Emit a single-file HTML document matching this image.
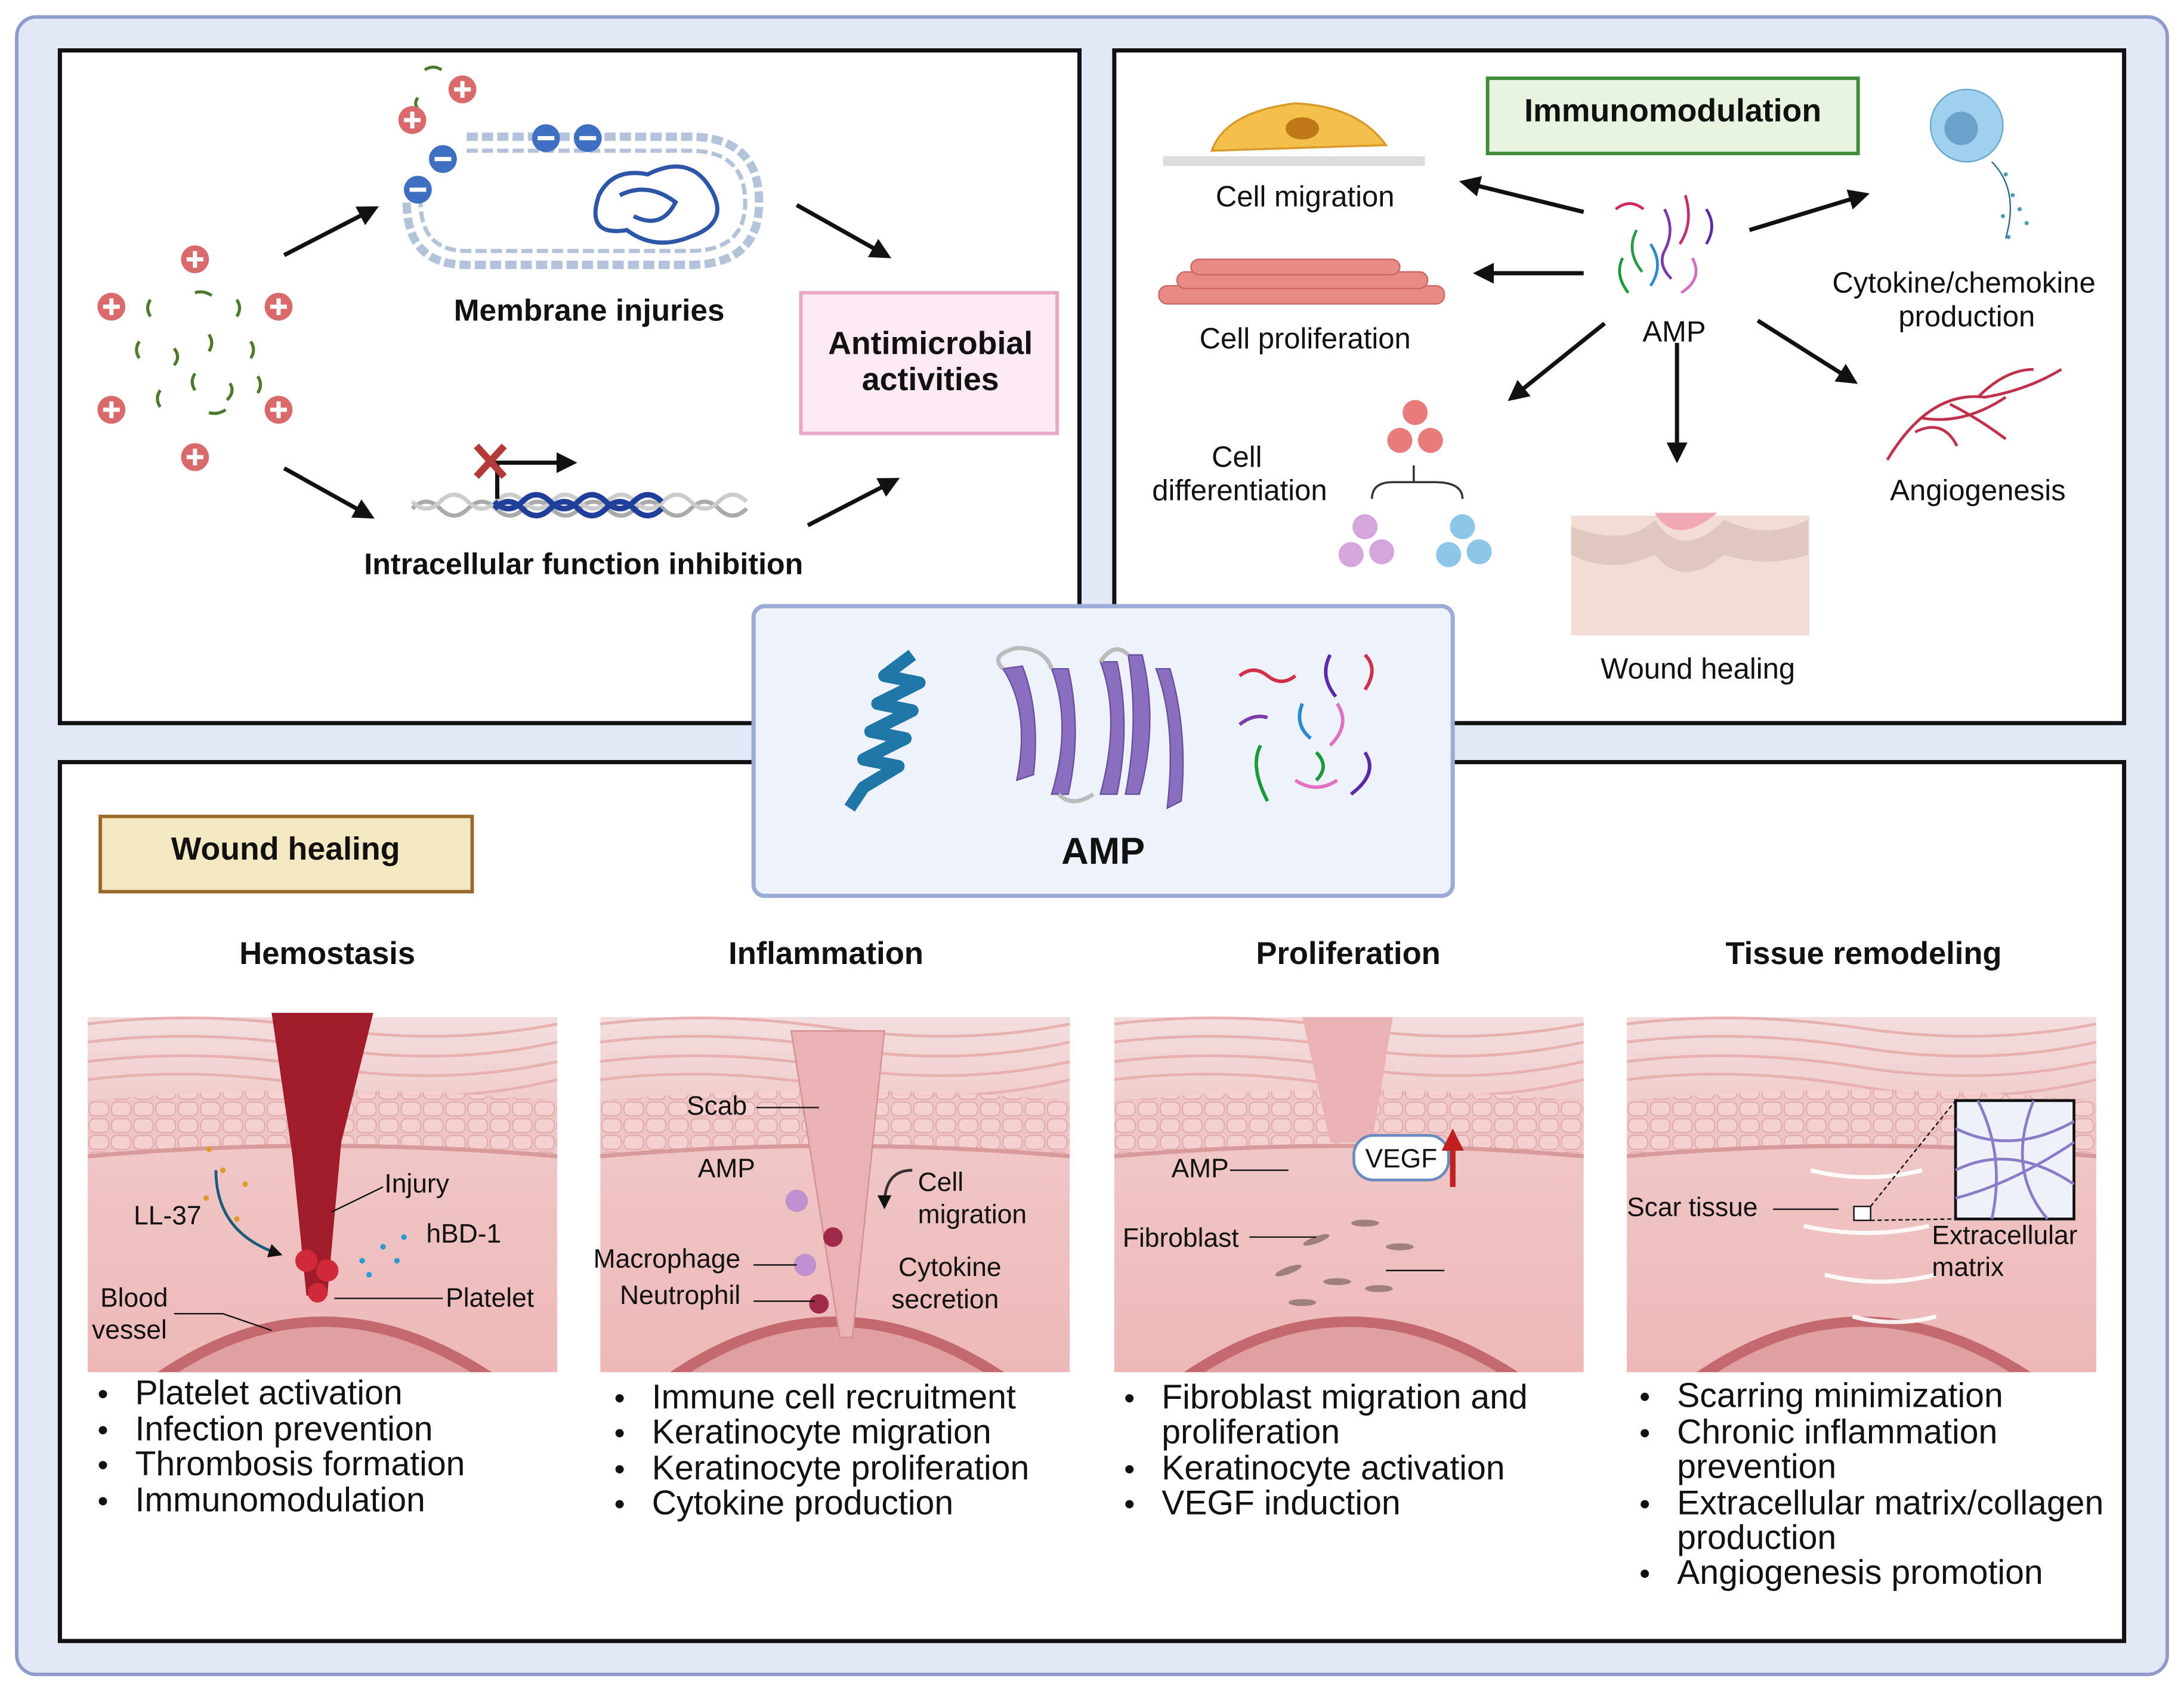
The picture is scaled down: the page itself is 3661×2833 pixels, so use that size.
<!DOCTYPE html>
<html><head><meta charset="utf-8"><style>
html,body{margin:0;padding:0;background:#fff}
svg{display:block}
text{font-family:"Liberation Sans",Arial,sans-serif;fill:#111}
.b{font-weight:bold}
</style></head><body>
<svg width="3661" height="2833" viewBox="0 0 1568 1213" xmlns="http://www.w3.org/2000/svg">
<defs>
<marker id="ar" markerWidth="5" markerHeight="5" refX="3.5" refY="2.5" orient="auto" markerUnits="strokeWidth"><path d="M0,0 L5,2.5 L0,5 z" fill="#111"/></marker>
<marker id="arr" markerWidth="4" markerHeight="4" refX="2" refY="2" orient="auto" markerUnits="strokeWidth"><path d="M0,0 L4,2 L0,4 z" fill="#c02020"/></marker>
<g id="plus"><circle r="10" fill="#d9696b"/><path d="M-6,0H6M0,-6V6" stroke="#fff" stroke-width="3"/></g>
<g id="minus"><circle r="10" fill="#3f6fc0"/><path d="M-6,0H6" stroke="#fff" stroke-width="3"/></g>
<linearGradient id="skin" x1="0" y1="0" x2="0" y2="1"><stop offset="0" stop-color="#f3dede"/><stop offset="0.3" stop-color="#f0c8c8"/><stop offset="1" stop-color="#eeb8b8"/></linearGradient>
<pattern id="cells" width="16" height="12" patternUnits="userSpaceOnUse"><rect width="16" height="12" fill="#f0c4c4"/><rect x="1" y="1" width="14" height="10" rx="4" fill="#f6d2d2" stroke="#dca0a0" stroke-width="0.8"/></pattern>
<g id="skinbase">
<rect x="0" y="0" width="337" height="255" fill="url(#skin)"/>
<path d="M0,5 Q80,-5 168,8 T337,5" stroke="#e8b0b0" fill="none" stroke-width="2"/>
<path d="M0,18 Q80,8 168,22 T337,18" stroke="#e8b0b0" fill="none" stroke-width="2"/>
<path d="M0,32 Q80,22 168,36 T337,32" stroke="#e8b0b0" fill="none" stroke-width="2"/>
<path d="M0,45 Q80,35 168,50 T337,45" stroke="#e8b0b0" fill="none" stroke-width="2"/>
<path d="M0,60 Q168,45 337,60 V100 Q168,85 0,100 Z" fill="url(#cells)" opacity="0.8"/>
<path d="M0,100 Q168,85 337,100" stroke="#d89a9a" fill="none" stroke-width="3"/>
<path d="M50,255 Q168,175 290,255 Z" fill="#c46a6e"/>
<path d="M65,255 Q168,190 275,255 Z" fill="#e0a0a2"/>
</g>
</defs>
<rect x="0" y="0" width="1568" height="1213" fill="#fff"/>
<rect x="12" y="12" width="1544" height="1190" rx="14" fill="#e3e8f7" stroke="#8f9bcc" stroke-width="2.5"/>
<rect x="43" y="36" width="732" height="483" fill="#fff" stroke="#111" stroke-width="3"/>
<rect x="800" y="36" width="725" height="483" fill="#fff" stroke="#111" stroke-width="3"/>
<rect x="43" y="547" width="1482" height="631" fill="#fff" stroke="#111" stroke-width="3"/>

<!-- top-left -->
<use href="#plus" x="140" y="186"/><use href="#plus" x="80" y="220"/><use href="#plus" x="200" y="220"/>
<use href="#plus" x="80" y="294"/><use href="#plus" x="200" y="294"/><use href="#plus" x="140" y="328"/>
<g stroke="#4a7a2a" stroke-width="2.2" fill="none">
<path d="M108,215 q-4,6 0,12"/><path d="M140,210 q6,-2 12,2"/><path d="M170,215 q4,6 0,12"/>
<path d="M100,245 q-4,6 0,12"/><path d="M125,250 q5,6 0,12"/><path d="M150,240 q4,6 0,12"/>
<path d="M180,245 q4,6 0,12"/><path d="M115,280 q-4,6 0,12"/><path d="M140,268 q-4,6 0,12"/>
<path d="M165,275 q4,6 -2,12"/><path d="M185,270 q4,6 0,12"/><path d="M150,296 q6,2 12,-2"/>
<path d="M305,50 q6,-4 12,0"/><path d="M300,70 q-4,5 2,10"/>
</g>
<path d="M204,183 L268,150" stroke="#111" stroke-width="3" marker-end="url(#ar)"/>
<path d="M204,336 L265,370" stroke="#111" stroke-width="3" marker-end="url(#ar)"/>
<path d="M572,147 L636,183" stroke="#111" stroke-width="3" marker-end="url(#ar)"/>
<path d="M580,377 L642,345" stroke="#111" stroke-width="3" marker-end="url(#ar)"/>
<path d="M335,98 H495 Q545,98 545,145 Q545,190 495,190 H335 Q292,190 292,145" fill="none" stroke="#b3c3da" stroke-width="6" stroke-dasharray="8,3"/>
<path d="M335,108 H495 Q535,108 535,145 Q535,180 495,180 H335 Q302,180 302,145" fill="none" stroke="#b3c3da" stroke-width="3" stroke-dasharray="8,3"/>
<path d="M430,140 q10,-20 35,-15 q30,-15 45,10 q15,25 -15,35 q-25,10 -45,-5 q-30,5 -20,-25 z M445,140 q20,-10 40,5 q-10,20 -30,10" fill="none" stroke="#2d56a8" stroke-width="3"/>
<use href="#plus" x="332" y="64"/><use href="#plus" x="296" y="86"/>
<use href="#minus" x="318" y="114"/><use href="#minus" x="300" y="136"/><use href="#minus" x="392" y="99"/><use href="#minus" x="422" y="99"/>
<text x="423" y="230" font-size="22" class="b" text-anchor="middle">Membrane injuries</text>
<rect x="575" y="210" width="184" height="101" fill="#fde9f3" stroke="#e9a9c6" stroke-width="2.5"/>
<text x="668" y="254" font-size="23" class="b" text-anchor="middle">Antimicrobial</text>
<text x="668" y="280" font-size="23" class="b" text-anchor="middle">activities</text>
<path d="M296,365 q10,-10 20,0 t20,0 t20,0 t20,0 t20,0 t20,0 t20,0 t20,0 t20,0 t20,0 t20,0 t20,0" stroke="#aaa" stroke-width="3" fill="none"/>
<path d="M296,360 q10,10 20,0 t20,0 t20,0 t20,0 t20,0 t20,0 t20,0 t20,0 t20,0 t20,0 t20,0 t20,0" stroke="#ccc" stroke-width="3" fill="none"/>
<path d="M355,365 q10,-10 20,0 t20,0 t20,0 t20,0 t20,0 t20,0" stroke="#1f3f9a" stroke-width="4" fill="none"/>
<path d="M355,360 q10,10 20,0 t20,0 t20,0 t20,0 t20,0 t20,0" stroke="#1f3f9a" stroke-width="4" fill="none"/>
<path d="M357,358 V332 H410" stroke="#111" stroke-width="3" fill="none" marker-end="url(#ar)"/>
<path d="M342,320 L362,342 M362,320 L342,342" stroke="#b43a3a" stroke-width="5"/>
<text x="419" y="412" font-size="21.5" class="b" text-anchor="middle">Intracellular function inhibition</text>

<!-- top-right -->
<rect x="1068" y="56" width="266" height="54" fill="#e7f5e0" stroke="#3e8b3a" stroke-width="2.5"/>
<text x="1201" y="87" font-size="23" class="b" text-anchor="middle">Immunomodulation</text>
<rect x="835" y="112" width="188" height="7" fill="#ddd"/>
<path d="M870,108 Q880,80 930,74 Q975,76 995,104 Z" fill="#f4c04a" stroke="#d89a2a" stroke-width="1.5"/>
<ellipse cx="935" cy="92" rx="12" ry="8" fill="#c07818"/>
<text x="937" y="148" font-size="21" text-anchor="middle">Cell migration</text>
<g fill="#e88a86" stroke="#c66" stroke-width="1">
<rect x="832" y="205" width="205" height="13" rx="6"/><rect x="845" y="195" width="180" height="12" rx="6"/><rect x="855" y="186" width="150" height="11" rx="6"/></g>
<text x="937" y="250" font-size="21" text-anchor="middle">Cell proliferation</text>
<text x="888" y="335" font-size="21" text-anchor="middle">Cell</text>
<text x="890" y="359" font-size="21" text-anchor="middle">differentiation</text>
<g fill="#e87b7b"><circle cx="1016" cy="296" r="9"/><circle cx="1005" cy="316" r="9"/><circle cx="1027" cy="316" r="9"/></g>
<path d="M985,358 q0,-12 15,-12 h15 v-12 v12 h15 q20,0 20,12" fill="none" stroke="#333" stroke-width="1.5"/>
<g fill="#d4a6dc"><circle cx="980" cy="378" r="9"/><circle cx="970" cy="398" r="9"/><circle cx="992" cy="396" r="9"/></g>
<g fill="#8cc6e8"><circle cx="1050" cy="378" r="9"/><circle cx="1040" cy="398" r="9"/><circle cx="1062" cy="396" r="9"/></g>
<g stroke-width="2" fill="none">
<path d="M1160,150 q10,-8 20,0" stroke="#d02a5a"/><path d="M1175,165 q-8,15 4,30" stroke="#2a9a4a"/><path d="M1195,150 q8,15 0,30 q-5,10 5,20" stroke="#7a3aaa"/>
<path d="M1210,140 q6,20 -4,35" stroke="#c0306a"/><path d="M1225,150 q8,12 0,25" stroke="#5a2aaa"/><path d="M1185,175 q10,15 0,30" stroke="#2a8ad0"/><path d="M1215,185 q8,15 -8,25" stroke="#d070c0"/><path d="M1165,185 q-6,12 4,25" stroke="#1a9a3a"/></g>
<text x="1202" y="245" font-size="21" text-anchor="middle">AMP</text>
<g stroke="#111" stroke-width="3" marker-end="url(#ar)">
<path d="M1137,152 L1052,131"/><path d="M1137,196 L1062,196"/><path d="M1152,232 L1086,285"/><path d="M1204,246 V328"/><path d="M1256,165 L1338,140"/><path d="M1262,230 L1330,273"/></g>
<circle cx="1412" cy="90" r="26" fill="#9fd0ee" stroke="#6aa8d0"/><circle cx="1408" cy="92" r="12" fill="#6aa2cc"/>
<g fill="#4a9ab0"><circle cx="1440" cy="125" r="1.5"/><circle cx="1445" cy="140" r="1.5"/><circle cx="1450" cy="150" r="1.5"/><circle cx="1438" cy="155" r="1.5"/><circle cx="1455" cy="160" r="1.5"/><circle cx="1442" cy="170" r="1.5"/></g>
<path d="M1430,116 q20,20 10,55" stroke="#2a6a8a" fill="none"/>
<text x="1410" y="210" font-size="21" text-anchor="middle">Cytokine/chemokine</text>
<text x="1412" y="234" font-size="21" text-anchor="middle">production</text>
<g stroke="#c0304a" stroke-width="2" fill="none"><path d="M1355,330 q30,-50 70,-45 q30,-5 55,-20"/><path d="M1380,300 q30,5 60,-15"/><path d="M1400,290 q20,10 40,25"/><path d="M1420,285 q20,-20 40,-20"/><path d="M1375,310 q20,-10 30,10"/></g>
<text x="1420" y="359" font-size="21" text-anchor="middle">Angiogenesis</text>
<rect x="1128" y="370" width="171" height="86" fill="#f4dcd6"/>
<path d="M1128,378 q40,15 60,-5 q20,30 50,0 q30,15 60,0 v25 q-30,10 -60,0 q-30,25 -50,0 q-30,15 -60,0z" fill="#e0c8c0"/>
<path d="M1188,368 q15,25 45,0 z" fill="#f0a8b4"/>
<text x="1219" y="487" font-size="21" text-anchor="middle">Wound healing</text>

<!-- center AMP -->
<rect x="541" y="435" width="502" height="208" rx="8" fill="#eef2fb" stroke="#9aabd6" stroke-width="3"/>
<path d="M655,470 l-20,15 l25,5 l-30,15 l25,5 l-30,15 l25,5 l-30,15 l25,5 l-25,15 l-10,15" stroke="#1f77a8" stroke-width="9" fill="none" stroke-linejoin="round"/>
<g fill="#8a6ec0" stroke="#6a4ea0"><path d="M720,480 q20,30 10,80 l12,-4 q5,-45 -8,-78z"/><path d="M755,480 q15,40 0,90 l12,0 q10,-45 0,-90z"/><path d="M790,475 q15,40 0,95 l12,0 q10,-50 0,-95z"/><path d="M810,470 l10,0 q12,50 -2,100 l-10,0 q10,-50 2,-100z"/><path d="M830,480 q15,40 8,100 l10,-5 q5,-50 -8,-95z"/></g>
<path d="M720,480 q-10,-10 10,-15 q20,0 25,15 M790,475 q10,-15 20,-5 M760,570 q10,10 25,0" stroke="#bbb" stroke-width="3" fill="none"/>
<g stroke-width="2.5" fill="none">
<path d="M890,485 q10,-8 20,0 q10,8 20,0" stroke="#d0304a"/><path d="M955,470 q-8,15 4,30" stroke="#5a2aaa"/><path d="M980,470 q10,10 0,25" stroke="#d0304a"/>
<path d="M890,520 q10,-8 20,-5" stroke="#7a3aaa"/><path d="M935,505 q-6,15 6,25" stroke="#2a8ad0"/><path d="M960,505 q10,15 -5,30" stroke="#e070c0"/>
<path d="M905,535 q-8,15 5,40" stroke="#1a9a3a"/><path d="M930,560 q15,10 30,0" stroke="#e070c0"/><path d="M980,540 q10,15 -10,30" stroke="#5a2aaa"/><path d="M945,540 q10,10 0,20" stroke="#1a9a3a"/></g>
<text x="792" y="620" font-size="27" class="b" text-anchor="middle">AMP</text>

<!-- bottom panel -->
<rect x="72" y="586" width="267" height="54" fill="#f4e8c2" stroke="#9a6a2a" stroke-width="2.5"/>
<text x="205" y="617" font-size="23" class="b" text-anchor="middle">Wound healing</text>
<text x="235" y="692" font-size="22.5" class="b" text-anchor="middle">Hemostasis</text>
<text x="593" y="692" font-size="22.5" class="b" text-anchor="middle">Inflammation</text>
<text x="968" y="692" font-size="22.5" class="b" text-anchor="middle">Proliferation</text>
<text x="1338" y="692" font-size="22.5" class="b" text-anchor="middle">Tissue remodeling</text>

<use href="#skinbase" x="63" y="730"/>
<use href="#skinbase" x="431" y="730"/>
<use href="#skinbase" x="800" y="730"/>
<use href="#skinbase" x="1168" y="730"/>
<!-- hemostasis wound -->
<path d="M195,727 L268,727 L245,820 L235,930 L220,930 L210,830 Z" fill="#a01c2a"/>
<g fill="#d02a3a"><circle cx="220" cy="905" r="8"/><circle cx="235" cy="912" r="8"/><circle cx="228" cy="928" r="7"/></g>
<g fill="#e09a30"><circle cx="150" cy="825" r="2"/><circle cx="160" cy="840" r="2"/><circle cx="148" cy="860" r="2"/><circle cx="170" cy="875" r="2"/><circle cx="176" cy="850" r="2"/></g>
<g fill="#2a9ad0"><circle cx="260" cy="905" r="2"/><circle cx="275" cy="895" r="2"/><circle cx="290" cy="888" r="2"/><circle cx="265" cy="915" r="2"/><circle cx="285" cy="905" r="2"/></g>
<path d="M155,840 q0,45 45,60" stroke="#1a5a7a" stroke-width="2" fill="none" marker-end="url(#ar)"/>
<g font-size="19"><text x="276" y="856">Injury</text><text x="96" y="879">LL-37</text><text x="306" y="892">hBD-1</text><text x="320" y="938">Platelet</text><text x="72" y="938">Blood</text><text x="66" y="961">vessel</text></g>
<g stroke="#111" stroke-width="1" fill="none"><path d="M275,852 L238,870"/><path d="M318,932 L240,932"/><path d="M125,943 H160 L195,955"/></g>
<!-- inflammation -->
<path d="M568,740 H635 L612,960 H603 Z" fill="#eab2b4" stroke="#d49090"/>
<g fill="#c090d0"><circle cx="572" cy="862" r="8"/><circle cx="578" cy="908" r="8"/></g><g fill="#a02a4a"><circle cx="598" cy="888" r="7"/><circle cx="588" cy="936" r="7"/></g>
<g font-size="19"><text x="493" y="800">Scab</text><text x="501" y="845">AMP</text><text x="659" y="855">Cell</text><text x="659" y="878">migration</text><text x="426" y="910">Macrophage</text><text x="445" y="936">Neutrophil</text><text x="645" y="916">Cytokine</text><text x="640" y="939">secretion</text></g>
<g stroke="#111" stroke-width="1"><path d="M543,795 H588"/><path d="M541,908 H572"/><path d="M541,934 H585"/></g>
<path d="M655,840 q-20,0 -20,25" stroke="#333" stroke-width="2" fill="none" marker-end="url(#ar)"/>
<!-- proliferation -->
<path d="M935,730 H1000 L985,820 H955 Z" fill="#eab2b4"/>
<rect x="972" y="815" width="68" height="32" rx="14" fill="#fff" stroke="#6a8ac0" stroke-width="2"/>
<text x="1006" y="838" font-size="19" text-anchor="middle">VEGF</text>
<path d="M1043,852 V818" stroke="#c02020" stroke-width="4" marker-end="url(#arr)"/>
<g fill="#a0807a"><ellipse cx="945" cy="890" rx="10" ry="2.5" transform="rotate(-20 945 890)"/><ellipse cx="980" cy="878" rx="10" ry="2.5"/><ellipse cx="1005" cy="895" rx="10" ry="2.5"/><ellipse cx="925" cy="912" rx="10" ry="2.5" transform="rotate(-20 925 912)"/><ellipse cx="960" cy="920" rx="10" ry="2.5"/><ellipse cx="990" cy="925" rx="10" ry="2.5"/><ellipse cx="935" cy="935" rx="10" ry="2.5"/></g>
<g font-size="19"><text x="841" y="845">AMP</text><text x="806" y="895">Fibroblast</text></g>
<g stroke="#111" stroke-width="1"><path d="M883,840 H925"/><path d="M897,888 H945"/><path d="M995,912 H1037"/></g>
<!-- remodeling -->
<g stroke="#fff" stroke-width="3" fill="none" opacity="0.9"><path d="M1300,840 q40,10 80,0"/><path d="M1295,880 q45,10 90,0"/><path d="M1310,915 q40,10 80,0"/><path d="M1330,945 q30,8 60,0"/></g>
<rect x="1404" y="790" width="85" height="85" fill="#eef0fa" stroke="#111" stroke-width="2"/>
<g stroke="#8a7ac8" stroke-width="2" fill="none"><path d="M1404,810 q40,20 85,-5"/><path d="M1404,840 q40,-20 85,10"/><path d="M1420,790 q20,40 10,85"/><path d="M1460,790 q-20,50 10,85"/><path d="M1404,860 q40,-10 85,-40"/></g>
<rect x="1331" y="866" width="12" height="10" fill="#fff" stroke="#111"/>
<path d="M1343,866 L1404,790 M1343,876 L1404,875" stroke="#111" stroke-dasharray="3,2"/>
<g font-size="19"><text x="1168" y="873">Scar tissue</text><text x="1387" y="893">Extracellular</text><text x="1387" y="916">matrix</text></g>
<path d="M1273,868 H1320" stroke="#111"/>

<!-- bullets -->
<g font-size="24.5">
<g font-size="22"><text x="70" y="1008">•</text><text x="70" y="1034">•</text><text x="70" y="1059">•</text><text x="70" y="1085">•</text>
<text x="441" y="1011">•</text><text x="441" y="1036">•</text><text x="441" y="1062">•</text><text x="441" y="1087">•</text>
<text x="807" y="1011">•</text><text x="807" y="1062">•</text><text x="807" y="1087">•</text>
<text x="1177" y="1010">•</text><text x="1177" y="1036">•</text><text x="1177" y="1087">•</text><text x="1177" y="1137">•</text></g>
<text x="97" y="1008">Platelet activation</text><text x="97" y="1034">Infection prevention</text><text x="97" y="1059">Thrombosis formation</text><text x="97" y="1085">Immunomodulation</text>
<text x="468" y="1011">Immune cell recruitment</text><text x="468" y="1036">Keratinocyte migration</text><text x="468" y="1062">Keratinocyte proliferation</text><text x="468" y="1087">Cytokine production</text>
<text x="834" y="1011">Fibroblast migration and</text><text x="834" y="1036">proliferation</text><text x="834" y="1062">Keratinocyte activation</text><text x="834" y="1087">VEGF induction</text>
<text x="1204" y="1010">Scarring minimization</text><text x="1204" y="1036">Chronic inflammation</text><text x="1204" y="1061">prevention</text><text x="1204" y="1087">Extracellular matrix/collagen</text><text x="1204" y="1112">production</text><text x="1204" y="1137">Angiogenesis promotion</text>
</g>
</svg>
</body></html>
